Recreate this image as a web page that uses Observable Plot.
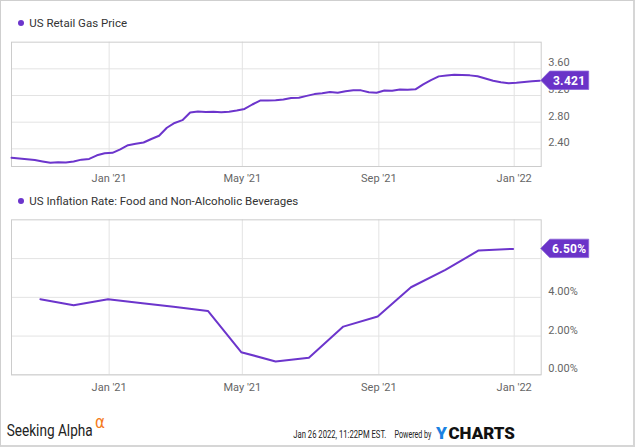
<!DOCTYPE html>
<html><head><meta charset="utf-8">
<script src="https://cdn.jsdelivr.net/npm/d3@7"></script>
<script src="https://cdn.jsdelivr.net/npm/@observablehq/plot@0.6"></script>
<style>
html,body{margin:0;padding:0;background:#fff;}
#wrap{position:relative;width:635px;height:447px;overflow:hidden;font-family:Roboto,sans-serif;background:#fff}
#border{position:absolute;left:0;top:0;width:635px;height:447px;box-sizing:border-box;border:1px solid #cfcfcf;border-right:2px solid #d6d6d6;border-bottom:2px solid #d6d6d6;pointer-events:none}
.dot{position:absolute;width:6px;height:6px;border-radius:50%;background:#6c35cc}
.title{position:absolute;font-size:11.5px;line-height:14px;color:#333;white-space:nowrap}
.chart{position:absolute;left:0}
</style></head><body>
<div id="wrap">
  <div class="dot" style="left:17.7px;top:19.7px"></div>
  <div class="title" style="left:29.3px;top:15.7px">US Retail Gas Price</div>
  <div class="chart" id="c1" style="top:30px"></div>
  <div class="dot" style="left:17.7px;top:197.7px"></div>
  <div class="title" style="left:29.3px;top:193.7px">US Inflation Rate: Food and Non-Alcoholic Beverages</div>
  <div class="chart" id="c2" style="top:210px"></div>
  <svg id="footer" width="635" height="47" style="position:absolute;left:0;top:400px"></svg>
  <div id="border"></div>
</div>
<script>
// ---- data ----
const gasDates = [
  "2020-10-05","2020-10-12","2020-10-19","2020-10-26","2020-11-02","2020-11-09","2020-11-16","2020-11-23","2020-11-30","2020-12-07","2020-12-14","2020-12-21","2020-12-28",
  "2021-01-04","2021-01-11","2021-01-18","2021-01-25","2021-02-01","2021-02-08","2021-02-15","2021-02-22","2021-03-01","2021-03-08","2021-03-15","2021-03-22","2021-03-29",
  "2021-04-05","2021-04-12","2021-04-19","2021-04-26","2021-05-03","2021-05-10","2021-05-17","2021-05-24","2021-05-31","2021-06-07","2021-06-14","2021-06-21","2021-06-28",
  "2021-07-05","2021-07-12","2021-07-19","2021-07-26","2021-08-02","2021-08-09","2021-08-16","2021-08-23","2021-08-30","2021-09-06","2021-09-13","2021-09-20","2021-09-27",
  "2021-10-04","2021-10-11","2021-10-18","2021-10-25","2021-11-01","2021-11-08","2021-11-15","2021-11-22","2021-11-29","2021-12-06","2021-12-13","2021-12-20","2021-12-27",
  "2022-01-03","2022-01-10","2022-01-17","2022-01-24"
];
const gasValues = [
  2.266,2.255,2.245,2.232,2.210,2.190,2.200,2.195,2.210,2.238,2.249,2.303,2.333,
  2.340,2.393,2.455,2.476,2.495,2.548,2.596,2.716,2.788,2.830,2.945,2.960,2.951,
  2.955,2.950,2.958,2.974,2.998,3.065,3.124,3.125,3.128,3.139,3.163,3.166,3.194,
  3.221,3.235,3.254,3.242,3.265,3.278,3.277,3.250,3.241,3.275,3.271,3.289,3.286,
  3.293,3.368,3.432,3.487,3.500,3.512,3.509,3.502,3.488,3.454,3.422,3.398,3.385,
  3.392,3.403,3.413,3.421
];
const inflDates = ["2020-10-31","2020-11-30","2020-12-31","2021-01-31","2021-02-28","2021-03-31","2021-04-30","2021-05-31","2021-06-30","2021-07-31","2021-08-31","2021-09-30","2021-10-31","2021-11-30","2021-12-31"];
const inflValues = [3.90,3.59,3.90,3.70,3.51,3.30,1.17,0.69,0.88,2.49,3.01,4.52,5.42,6.42,6.50];
const xTickDates = ["2021-01-01","2021-05-01","2021-09-01","2022-01-01"];
const gasTicks = [2.40,2.80,3.20,3.60];
const inflGrid = [0,2,4,6];
const inflTickLabels = [0,2,4];   // the 6.00% label is hidden behind the badge in the original
const gasLast = "3.421";
const inflLast = "6.50%";

// ---- build ----
const purple = "#6c35cc";
const badgeFill = "#6a33c8";
const gas = gasDates.map((d,i)=>({date:new Date(d), value:gasValues[i]}));
const infl = inflDates.map((d,i)=>({date:new Date(d), value:inflValues[i]}));
const xTicks = xTickDates.map(d=>new Date(d));
const xDomain = [new Date("2020-10-05"), new Date("2022-01-25T08:00Z")];
const fmtX = d3.utcFormat("%b '%y");
const gridStyle = {stroke:"#e3e3e3", strokeOpacity:1};
const W = 635, ML = 11, MR = 94.3;

function addBadge(svg, yPix, label){
  const tip = W - MR;
  const g = d3.select(svg).append("g");
  const h = 9.2;
  g.append("path")
    .attr("d", `M${tip},${yPix} L${tip+9},${yPix-h} L${tip+48},${yPix-h} L${tip+48},${yPix+h} L${tip+9},${yPix+h} Z`)
    .attr("fill", badgeFill).attr("stroke","#8a63d8").attr("stroke-width",0.8);
  g.append("text").attr("x", tip+28.5).attr("y", yPix).attr("dy","0.36em")
    .attr("text-anchor","middle").attr("fill","#fff")
    .attr("font-family","Roboto").attr("font-weight","bold").attr("font-size","12px")
    .attr("letter-spacing","0.3px")
    .text(label);
}

const chart1 = Plot.plot({
  width: W, height: 160,
  marginTop: 11.67, marginBottom: 24, marginLeft: ML, marginRight: MR,
  x: {type:"utc", domain: xDomain, label: null},
  y: {domain: [2.135, 4.0], label: null},
  style: {fontFamily:"Roboto", fontSize:"11px", color:"#666", background:"transparent"},
  marks: [
    Plot.gridX(xTicks, gridStyle),
    Plot.gridY(gasTicks, gridStyle),
    Plot.frame({stroke:"#cccccc"}),
    Plot.lineY(gas, {x:"date", y:"value", stroke:purple, strokeWidth:2}),
    Plot.axisX(xTicks, {tickSize:0, tickPadding:8, tickFormat: fmtX}),
    Plot.axisY(gasTicks, {anchor:"right", tickSize:0, tickPadding:7, dy:-6, tickFormat: d3.format(".2f")})
  ]
});
addBadge(chart1, chart1.scale("y").apply(+gasLast), gasLast);
document.getElementById("c1").appendChild(chart1);

const chart2 = Plot.plot({
  width: W, height: 190,
  marginTop: 9.33, marginBottom: 25.67, marginLeft: ML, marginRight: MR,
  x: {type:"utc", domain: xDomain, label: null},
  y: {domain: [0, 8], label: null},
  style: {fontFamily:"Roboto", fontSize:"11px", color:"#666", background:"transparent"},
  marks: [
    Plot.gridX(xTicks, gridStyle),
    Plot.gridY(inflGrid, gridStyle),
    Plot.frame({stroke:"#cccccc"}),
    Plot.lineY(infl, {x:"date", y:"value", stroke:purple, strokeWidth:2}),
    Plot.axisX(xTicks, {tickSize:0, tickPadding:8, tickFormat: fmtX}),
    Plot.axisY(inflTickLabels, {anchor:"right", tickSize:0, tickPadding:7, dy:-6, tickFormat: d => d.toFixed(2)+"%"})
  ]
});
addBadge(chart2, chart2.scale("y").apply(inflValues[inflValues.length-1]), inflLast);
document.getElementById("c2").appendChild(chart2);

// ---- footer (condensed text via horizontal scaling) ----
const footer = d3.select("#footer");
function fText(txt, x, y, width, size, fill, family, weight){
  const g = footer.append("g");
  const t = g.append("text").attr("x",0).attr("y",0)
    .attr("font-family", family).attr("font-size", size).attr("font-weight", weight || "normal")
    .attr("fill", fill).text(txt);
  const natural = t.node().getComputedTextLength();
  const sx = width ? width / natural : 1;
  g.attr("transform", `translate(${x},${y}) scale(${sx},1)`);
}
fText("Seeking Alpha", 6.7, 35.7, 86, 17.4, "#222", "Roboto");
fText("α", 95, 27.7, 10, 17, "#f47b20", "DejaVu Sans");
fText("Jan 26 2022, 11:22PM EST.", 293.3, 38.3, 93, 11.5, "#222", "Roboto");
fText("Powered by", 394.5, 38.3, 37, 11.5, "#222", "Roboto");
fText("Y", 436, 39.3, 11, 17, "#1a82e2", "Roboto", 900);
fText("CHARTS", 448.5, 39.3, 66.5, 17, "#111", "Roboto", 900);
</script>
</body></html>
